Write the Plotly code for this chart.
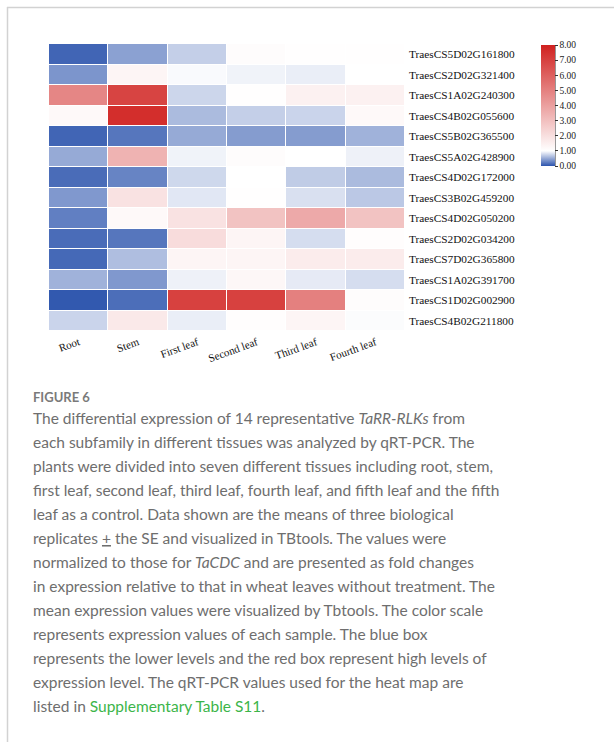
import plotly.graph_objects as go

# Tissues (columns) and genes (rows, top to bottom)
tissues = ["Root", "Stem", "First leaf", "Second leaf", "Third leaf", "Fourth leaf"]
genes = [
    "TraesCS5D02G161800", "TraesCS2D02G321400", "TraesCS1A02G240300",
    "TraesCS4B02G055600", "TraesCS5B02G365500", "TraesCS5A02G428900",
    "TraesCS4D02G172000", "TraesCS3B02G459200", "TraesCS4D02G050200",
    "TraesCS2D02G034200", "TraesCS7D02G365800", "TraesCS1A02G391700",
    "TraesCS1D02G002900", "TraesCS4B02G211800",
]

# Mean relative expression (fold change) per gene, in tissue order
expression = [
    [0.10, 0.45, 0.72, 1.08, 1.04, 1.02],
    [0.38, 1.30, 0.97, 0.93, 0.90, 1.00],
    [4.80, 6.90, 0.76, 1.04, 1.45, 1.45],
    [1.20, 7.60, 0.60, 0.72, 0.75, 1.20],
    [0.10, 0.20, 0.50, 0.42, 0.42, 0.55],
    [0.50, 3.40, 0.93, 1.10, 1.00, 0.92],
    [0.14, 0.28, 0.77, 1.00, 0.70, 0.60],
    [0.40, 1.90, 0.86, 1.03, 0.82, 0.68],
    [0.25, 1.20, 1.90, 2.90, 3.70, 2.90],
    [0.14, 0.20, 2.10, 1.30, 0.80, 1.05],
    [0.12, 0.62, 1.30, 1.30, 1.60, 1.60],
    [0.55, 0.40, 0.92, 1.25, 0.88, 0.80],
    [0.03, 0.15, 7.00, 7.00, 5.00, 1.10],
    [0.75, 1.70, 0.90, 1.05, 1.30, 0.98],
]

# Colour bar tick values
bar_ticks = [0, 1, 2, 3, 4, 5, 6, 7, 8]

# Page geometry (pixels)
W, H = 614, 742
L, R, T, B = 49, 209, 44, 411
PW, PH = W - L - R, H - T - B


def px(x):
    return (x - L) / PW


def py(y):
    return (H - B - y) / PH


BLUE = "#2c54ad"
RED = "#d0211f"

fig = go.Figure(
    go.Heatmap(
        z=expression,
        x=tissues,
        y=genes,
        zmin=0,
        zmax=8,
        colorscale=[[0, BLUE], [0.125, "#ffffff"], [1, RED]],
        xgap=1,
        ygap=1,
        colorbar=dict(
            xref="paper", yref="paper",
            x=px(541), xanchor="left",
            y=py(45), yanchor="top",
            len=121, lenmode="pixels",
            thickness=14,
            xpad=0, ypad=0,
            outlinewidth=0,
            ticks="outside", ticklen=3, tickwidth=1, tickcolor="#333",
            tickvals=bar_ticks,
            ticktext=[f"{v:.2f}" for v in bar_ticks],
            tickfont=dict(family="Liberation Serif", size=9.5, color="#222"),
        ),
        hovertemplate="%{y}<br>%{x}: %{z:.2f}<extra></extra>",
    )
)

fig.update_xaxes(
    tickangle=-20,
    tickfont=dict(family="Liberation Serif", size=11, color="#111"),
    showgrid=False, zeroline=False, showline=False, ticks="",
    ticklabelstandoff=2,
)
fig.update_yaxes(
    side="right",
    autorange="reversed",
    tickfont=dict(family="Liberation Serif", size=11.3, color="#111"),
    showgrid=False, zeroline=False, showline=False, ticks="",
    ticklabelstandoff=3,
)

shapes = [
    # outer frame (top and left rules)
    dict(type="line", xref="paper", yref="paper",
         x0=px(7), x1=px(W + 2), y0=py(7.5), y1=py(7.5),
         line=dict(color="#d2d2d2", width=1.5)),
    dict(type="line", xref="paper", yref="paper",
         x0=px(7.5), x1=px(7.5), y0=py(7), y1=py(H + 2),
         line=dict(color="#d2d2d2", width=1.5)),
    # colour bar axis line
    dict(type="line", xref="paper", yref="paper",
         x0=px(555), x1=px(555), y0=py(45), y1=py(166),
         line=dict(color="#333", width=1)),
]

caption_lines = [
    "The differential expression of 14 representative <i>TaRR-RLKs</i> from",
    "each subfamily in different tissues was analyzed by qRT-PCR. The",
    "plants were divided into seven different tissues including root, stem,",
    "first leaf, second leaf, third leaf, fourth leaf, and fifth leaf and the fifth",
    "leaf as a control. Data shown are the means of three biological",
    "replicates <u>+</u> the SE and visualized in TBtools. The values were",
    "normalized to those for <i>TaCDC</i> and are presented as fold changes",
    "in expression relative to that in wheat leaves without treatment. The",
    "mean expression values were visualized by Tbtools. The color scale",
    "represents expression values of each sample. The blue box",
    "represents the lower levels and the red box represent high levels of",
    "expression level. The qRT-PCR values used for the heat map are",
    "listed in <span style='color:#3cb54a'>Supplementary Table S11</span>.",
]

annotations = [
    dict(text="<b>FIGURE 6</b>", xref="paper", yref="paper",
         x=px(31), y=py(397), xanchor="left", yanchor="middle",
         showarrow=False,
         font=dict(family="Lato", size=13, color="#7a7a7a")),
]
for i, line in enumerate(caption_lines):
    annotations.append(dict(
        text=line, xref="paper", yref="paper",
        x=px(31), y=py(418 + 24.0 * i), xanchor="left", yanchor="middle",
        showarrow=False, align="left",
        font=dict(family="Lato", size=15.5, color="#6e6e6e"),
    ))

fig.update_layout(
    width=W, height=H,
    margin=dict(l=L, r=R, t=T, b=B),
    paper_bgcolor="white", plot_bgcolor="white",
    shapes=shapes,
    annotations=annotations,
)

fig.write_html("out.html")
